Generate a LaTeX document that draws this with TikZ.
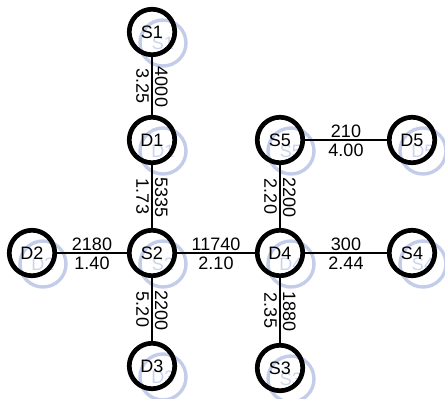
\documentclass[tikz,border=0pt]{standalone}
\usepackage{fontspec}
\setmainfont{Liberation Sans}
\usepackage{tikz}
\definecolor{shade}{HTML}{C3CDEA}

\begin{document}
\begin{tikzpicture}[x=1pt,y=-1pt,
    font=\fontsize{18}{20}\selectfont,
    station/.style={circle,draw=black,line width=4.7pt,minimum size=45.5pt,inner sep=0pt},
    ghost/.style={circle,draw=shade,text=shade!85,line width=3.4pt,minimum size=46pt,inner sep=0pt},
    link/.style={line width=2pt},
    top/.style={midway,above,inner sep=2pt,yshift=-1pt},
    bot/.style={midway,below,inner sep=2pt,yshift=-1pt},
    vtop/.style={midway,rotate=-90,above,inner sep=2pt,xshift=1pt},
    vbot/.style={midway,rotate=-90,below,inner sep=2pt}]
      \useasboundingbox (0,0) rectangle (445,399);
      % stations with their pale copies behind
      \foreach \n/\x/\y in {S1/152/32, D1/152/140, S2/152/253, D2/32/253, D3/152/366,
                            S5/280/140, D5/412/140, D4/280/253, S4/412/253, S3/280/368}{
        \node[ghost] at (\x+11,\y+11) {\n};
        \node[station] (\n) at (\x,\y) {\n};
      }
      % links: flow on top, cost under
      \draw[link] (S1) -- node[vtop] {4000} node[vbot] {3.25} (D1);
      \draw[link] (D1) -- node[vtop] {5335} node[vbot] {1.73} (S2);
      \draw[link] (S2) -- node[vtop] {2200} node[vbot] {5.20} (D3);
      \draw[link] (D2) -- node[top] {2180} node[bot] {1.40} (S2);
      \draw[link] (S2) -- node[top] {11740} node[bot] {2.10} (D4);
      \draw[link] (D4) -- node[top] {300} node[bot] {2.44} (S4);
      \draw[link] (S5) -- node[top] {210} node[bot] {4.00} (D5);
      \draw[link] (S5) -- node[vtop] {2200} node[vbot] {2.20} (D4);
      \draw[link] (D4) -- node[vtop] {1880} node[vbot] {2.35} (S3);
    \end{tikzpicture}
\end{document}
